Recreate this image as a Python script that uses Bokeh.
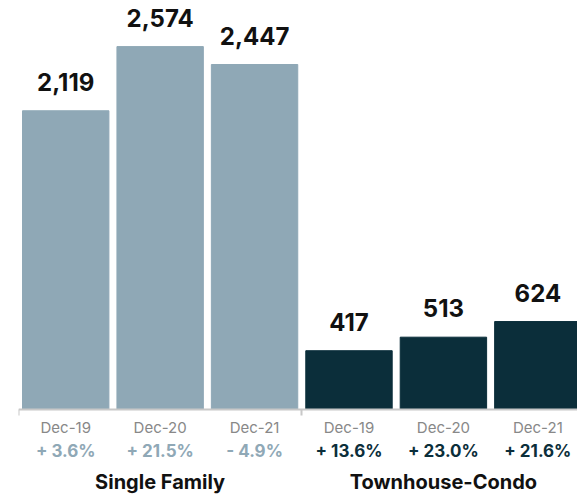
from bokeh.plotting import figure
from bokeh.models import ColumnDataSource, Range1d, FixedTicker
from bokeh.core.properties import value
from bokeh.embed import file_html
from bokeh.resources import INLINE

# ---- data ----
groups = ["Single Family", "Townhouse-Condo"]
months = ["Dec-19", "Dec-20", "Dec-21"]
single_family = [2119, 2574, 2447]
townhouse_condo = [417, 513, 624]
sf_change = ["+ 3.6%", "+ 21.5%", "- 4.9%"]
tc_change = ["+ 13.6%", "+ 23.0%", "+ 21.6%"]

SF_COLOR = "#8fa8b6"
TC_COLOR = "#0b2e3a"
FONT = "Inter"

values = single_family + townhouse_condo
changes = sf_change + tc_change
labels = months + months
n = len(values)
xs = [i + 0.5 for i in range(n)]
colors = [SF_COLOR] * len(single_family) + [TC_COLOR] * len(townhouse_condo)

src = ColumnDataSource(dict(
    x=xs, top=values, color=colors,
    vlabel=[f"{v:,}" for v in values],
    month=labels, change=changes,
    zero=[0] * n,
))

p = figure(width=577, height=496, output_backend="svg", toolbar_location=None,
           x_range=Range1d(0, 5.92), y_range=Range1d(-617, 2901),
           min_border_left=18, min_border_right=0, min_border_top=0, min_border_bottom=0)
p.outline_line_color = None
p.grid.visible = False
p.yaxis.visible = False
p.background_fill_color = "white"

p.vbar(x="x", top="top", width=0.915, bottom=0, color="color", source=src)

# value labels
p.text(x="x", y="top", text="vlabel", source=src, text_align="center",
       text_baseline="alphabetic", y_offset=-29, text_font=value(FONT),
       text_font_style="bold", text_font_size="24px", text_color="#111111")

# month labels
p.text(x="x", y="zero", text="month", source=src, text_align="center",
       text_baseline="alphabetic", y_offset=18, text_font=value(FONT),
       text_font_size="15px", text_color="#888888")

# change labels
p.text(x="x", y="zero", text="change", source=src, text_align="center",
       text_baseline="alphabetic", y_offset=41, text_font=value(FONT),
       text_font_style="bold", text_font_size="17px", text_color="color")

# group labels
gsrc = ColumnDataSource(dict(x=[1.5, 4.5], y=[0, 0], g=groups))
p.text(x="x", y="y", text="g", source=gsrc, text_align="center",
       text_baseline="alphabetic", y_offset=72, text_font=value(FONT),
       text_font_style="bold", text_font_size="20px", text_color="#111111")

# axis at zero
xa = p.xaxis[0]
xa.fixed_location = 0
xa.ticker = FixedTicker(ticks=[0, 3])
xa.major_label_text_font_size = "0px"
xa.major_label_text_color = None
xa.axis_line_color = "#c8c8c8"
xa.axis_line_width = 2
xa.major_tick_line_color = "#c8c8c8"
xa.major_tick_line_width = 2
xa.major_tick_out = 6
xa.major_tick_in = 0
xa.minor_tick_line_color = None

open("out.html", "w").write(file_html(p, INLINE))
